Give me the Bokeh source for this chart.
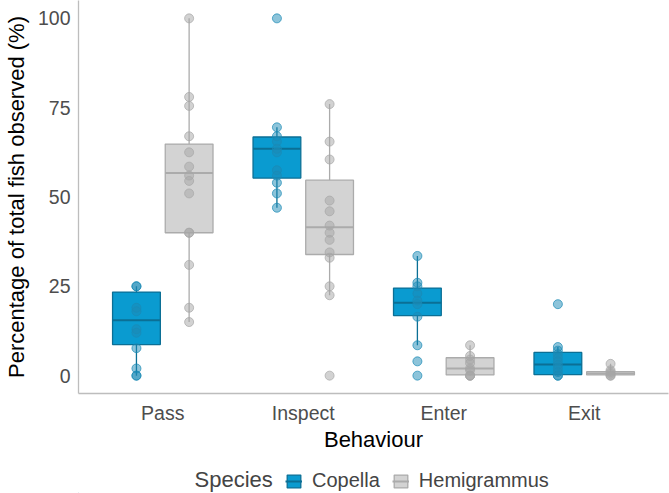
from bokeh.plotting import figure
from bokeh.layouts import column
from bokeh.models import (ColumnDataSource, FixedTicker, Label, Legend, LegendItem, Range1d)
from bokeh.embed import file_html
from bokeh.resources import INLINE

behaviours = ["Pass", "Inspect", "Enter", "Exit"]
species = ["Copella", "Hemigrammus"]

# individual observations (% of total fish observed)
copella_pass = [25, 25, 19, 18, 13, 12, 7.7, 2, 0, 0]
copella_inspect = [100, 69.5, 67, 65.5, 63.5, 62.5, 57.5, 56, 54, 51, 47]
copella_enter = [33.5, 26, 25, 23, 21, 20, 16.5, 8.5, 4, 0]
copella_exit = [20, 8, 7, 6, 5, 4, 3, 2, 1, 0, 0]
hemi_pass = [100, 78, 75.5, 67, 62.5, 58.5, 56, 54.5, 51, 40, 40, 31, 19, 15]
hemi_inspect = [76, 65.5, 60.5, 49, 46, 42, 40, 38, 34.5, 33, 25, 22.5, 0]
hemi_enter = [8.5, 5.5, 4.5, 3.5, 2, 1.5, 0, 0, 0]
hemi_exit = [3.3, 1.5, 1, 0.5, 0, 0]

# box statistics per behaviour (Pass, Inspect, Enter, Exit)
copella_q1 = [8.7, 55.3, 16.8, 0.3]
copella_med = [15.5, 63.5, 20.4, 3.1]
copella_q3 = [23.4, 66.8, 24.5, 6.5]
copella_lo = [0, 47, 8.5, 0]
copella_hi = [25, 69.5, 33.5, 8]
hemi_q1 = [40, 33.9, 0.2, 0.2]
hemi_med = [56.7, 41.5, 2, 0.6]
hemi_q3 = [64.8, 54.7, 5.0, 1.1]
hemi_lo = [15, 22.5, 0, 0]
hemi_hi = [100, 76, 8.5, 3.3]

FONT = "Liberation Sans"
C_FILL, C_LINE, C_PT = "#0A9BD0", "#0B6F95", "#1B8AB5"
H_FILL, H_LINE, H_PT = "#D3D3D3", "#ABABAB", "#A6A6A6"

p = figure(width=669, height=454, x_range=Range1d(0.4, 4.6), y_range=Range1d(-5, 105),
           output_backend="svg", toolbar_location=None,
           min_border_left=78, min_border_right=1, min_border_top=0, min_border_bottom=60)
p.grid.visible = False
p.outline_line_color = None
p.background_fill_color = "white"
p.border_fill_color = "white"

OFFSET, BW = 0.1875, 0.34

def draw(q1, med, q3, lo, hi, obs_lists, sign, fill, line, pt):
    xs = [i + 1 + sign * OFFSET for i in range(len(behaviours))]
    src = ColumnDataSource(dict(x=xs, x0=[x - BW / 2 for x in xs], x1=[x + BW / 2 for x in xs],
                                q1=q1, med=med, q3=q3, lo=lo, hi=hi))
    p.segment(x0="x", x1="x", y0="lo", y1="q1", source=src, line_color=line, line_width=1.3)
    p.segment(x0="x", x1="x", y0="q3", y1="hi", source=src, line_color=line, line_width=1.3)
    p.vbar(x="x", width=BW, bottom="q1", top="q3", source=src, fill_color=fill,
           line_color=line, line_width=1.3)
    p.segment(x0="x0", x1="x1", y0="med", y1="med", source=src, line_color=line, line_width=2)
    px, py = [], []
    for x, obs in zip(xs, obs_lists):
        px += [x] * len(obs)
        py += obs
    p.scatter(px, py, size=9, fill_color=pt, fill_alpha=0.5, line_color=pt, line_alpha=0.7, line_width=1)

draw(copella_q1, copella_med, copella_q3, copella_lo, copella_hi,
     [copella_pass, copella_inspect, copella_enter, copella_exit], -1, C_FILL, C_LINE, C_PT)
draw(hemi_q1, hemi_med, hemi_q3, hemi_lo, hemi_hi,
     [hemi_pass, hemi_inspect, hemi_enter, hemi_exit], 1, H_FILL, H_LINE, H_PT)

for ax in (p.xaxis[0], p.yaxis[0]):
    ax.axis_line_color = "#BDBDBD"
    ax.axis_line_width = 1.3
    ax.major_tick_line_color = None
    ax.minor_tick_line_color = None
    ax.major_tick_out = 0
    ax.major_tick_in = 0
    ax.minor_tick_out = 0
    ax.minor_tick_in = 0
    ax.major_label_text_font = FONT
    ax.major_label_text_font_size = "19.5px"
    ax.major_label_text_color = "#4D4D4D"
    ax.axis_label_text_font = FONT
    ax.axis_label_text_font_size = "22px"
    ax.axis_label_text_font_style = "normal"
    ax.axis_label_text_color = "black"

p.xaxis.ticker = FixedTicker(ticks=[1, 2, 3, 4])
p.xaxis.major_label_overrides = {i + 1: b for i, b in enumerate(behaviours)}
p.xaxis.axis_label = "Behaviour"
p.xaxis.major_label_standoff = 8
p.xaxis.axis_label_standoff = 0

p.yaxis.ticker = FixedTicker(ticks=[0, 25, 50, 75, 100])
p.yaxis.axis_label = "Percentage of total fish observed (%)"
p.yaxis.major_label_standoff = 8
p.yaxis.axis_label_standoff = 6

# legend strip below the plot (its frame is aligned with the plot frame)
lf = figure(width=669, height=39, x_range=Range1d(0, 1), y_range=Range1d(0, 1),
            output_backend="svg", toolbar_location=None, x_axis_type=None, y_axis_type=None,
            min_border_left=0, min_border_right=0, min_border_top=0, min_border_bottom=0)
lf.grid.visible = False
lf.outline_line_color = None
lf.border_fill_color = "white"
lf.background_fill_color = "white"

items = []
for name, fill, line in zip(species, [C_FILL, H_FILL], [C_LINE, H_LINE]):
    # key-only renderers, kept outside the visible range
    key_src = ColumnDataSource(dict(x=[-10], b=[-10], t=[-9], x0=[-10], x1=[-9], y=[-10]))
    r1 = lf.vbar(x="x", width=0.1, bottom="b", top="t", source=key_src, fill_color=fill,
                 line_color=line, line_width=1.3)
    r2 = lf.segment(x0="x0", x1="x1", y0="y", y1="y", source=key_src, line_color=line, line_width=2)
    items.append(LegendItem(label=name, renderers=[r1, r2]))

legend = Legend(items=items, orientation="horizontal", location=(207, 1))
legend.label_text_font = FONT
legend.label_text_font_size = "20px"
legend.glyph_width = 17
legend.glyph_height = 16
legend.spacing = 12
legend.label_standoff = 10
legend.padding = 0
legend.margin = 0
legend.border_line_color = None
legend.background_fill_alpha = 0
lf.add_layout(legend)

lf.add_layout(Label(x=116, y=14, x_units="screen", y_units="screen", text="Species",
                    text_font=FONT, text_font_size="22px", text_baseline="middle"))

layout = column(p, lf, spacing=0)
open("out.html", "w").write(file_html(layout, INLINE))
